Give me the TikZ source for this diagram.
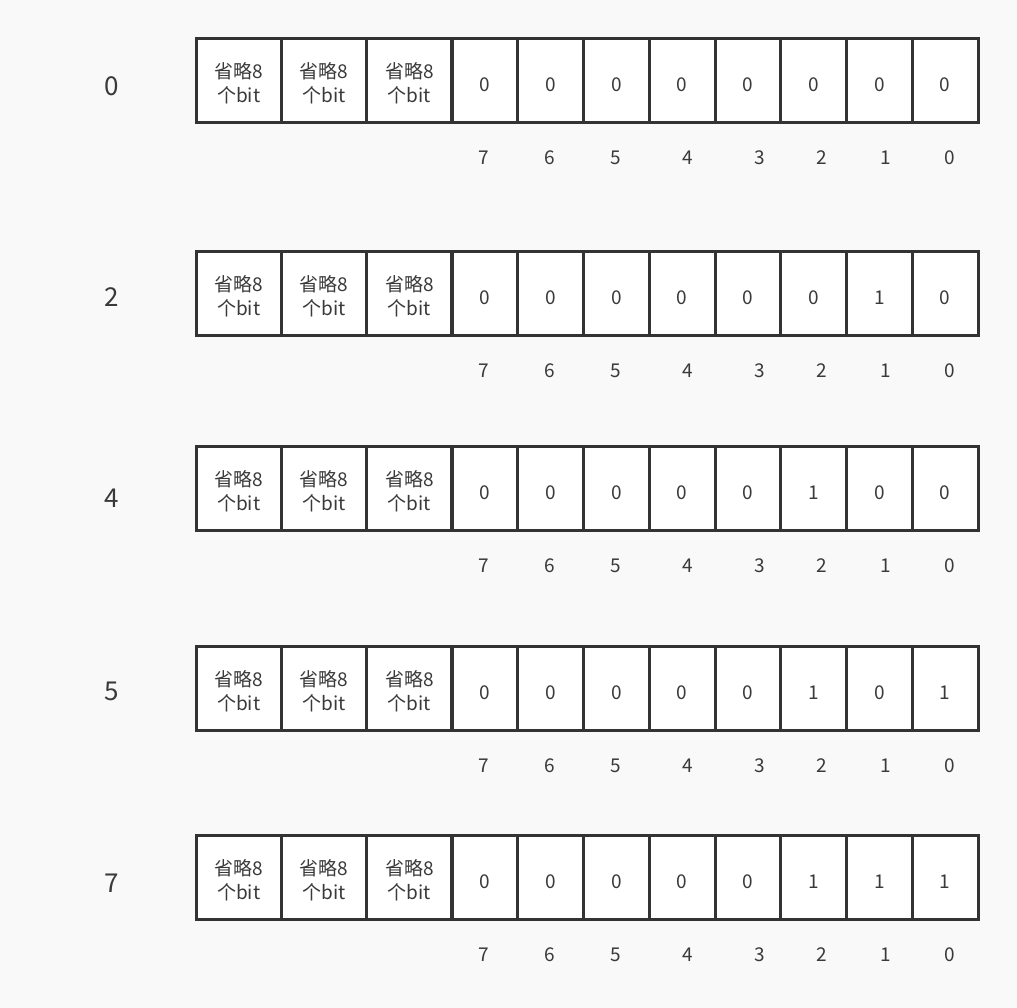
\documentclass[tikz,border=0pt]{standalone}
\usepackage{fontspec}
\setmainfont{Noto Sans CJK SC}
\definecolor{bg}{HTML}{F9F9F9}
\definecolor{ink}{HTML}{333333}
\definecolor{txt}{HTML}{3A3A3A}
\newcommand\omitted{\raisebox{-5pt}[\height][\depth]{\begin{tabular}{@{}c@{}}省略8\\个bit\end{tabular}}}
\newcommand\bitval[1]{\raisebox{-4.5pt}[\height][\depth]{#1}}
\begin{document}
\begin{tikzpicture}[x=1pt,y=-1pt,
  cellbox/.style={draw=ink, line width=3pt, fill=white, minimum height=84pt, inner sep=0pt, outer sep=0pt, text=txt, font=\fontsize{19}{24.5}\selectfont, anchor=north west},
  bigcell/.style={cellbox, minimum width=85.33pt},
  bitcell/.style={cellbox, minimum width=65.75pt},
  rowlabel/.style={text=txt, font=\fontsize{26}{30}\selectfont, inner sep=0pt},
  idxlabel/.style={text=txt, font=\fontsize{19}{22}\selectfont, inner sep=0pt}]
\path[fill=bg, use as bounding box] (0,0) rectangle (1017,1008);
\foreach \r/\yt/\ly/\bits in {0/38.5/86/{0,0,0,0,0,0,0,0},
                              2/251.5/297/{0,0,0,0,0,0,1,0},
                              4/446.5/498/{0,0,0,0,0,1,0,0},
                              5/646.5/691/{0,0,0,0,0,1,0,1},
                              7/835.5/883/{0,0,0,0,0,1,1,1}}{
  \node[rowlabel] (lab\r) at (111.5,\ly) {\r};
  \foreach \k in {0,1,2}{
    \node[bigcell] (g\r-\k) at ({196+85.33*\k},\yt) {\omitted};
  }
  \foreach \b [count=\i from 0] in \bits{
    \node[bitcell] (c\r-\i) at ({452+65.75*\i},\yt) {\bitval{\b}};
  }
  \foreach \x/\n [count=\j from 0] in {484/7,550/6,616/5,688/4,760/3,822/2,886/1,950/0}{
    \node[idxlabel] (ix\r-\j) at (\x,\yt+119) {\n};
  }
}
\end{tikzpicture}
\end{document}
